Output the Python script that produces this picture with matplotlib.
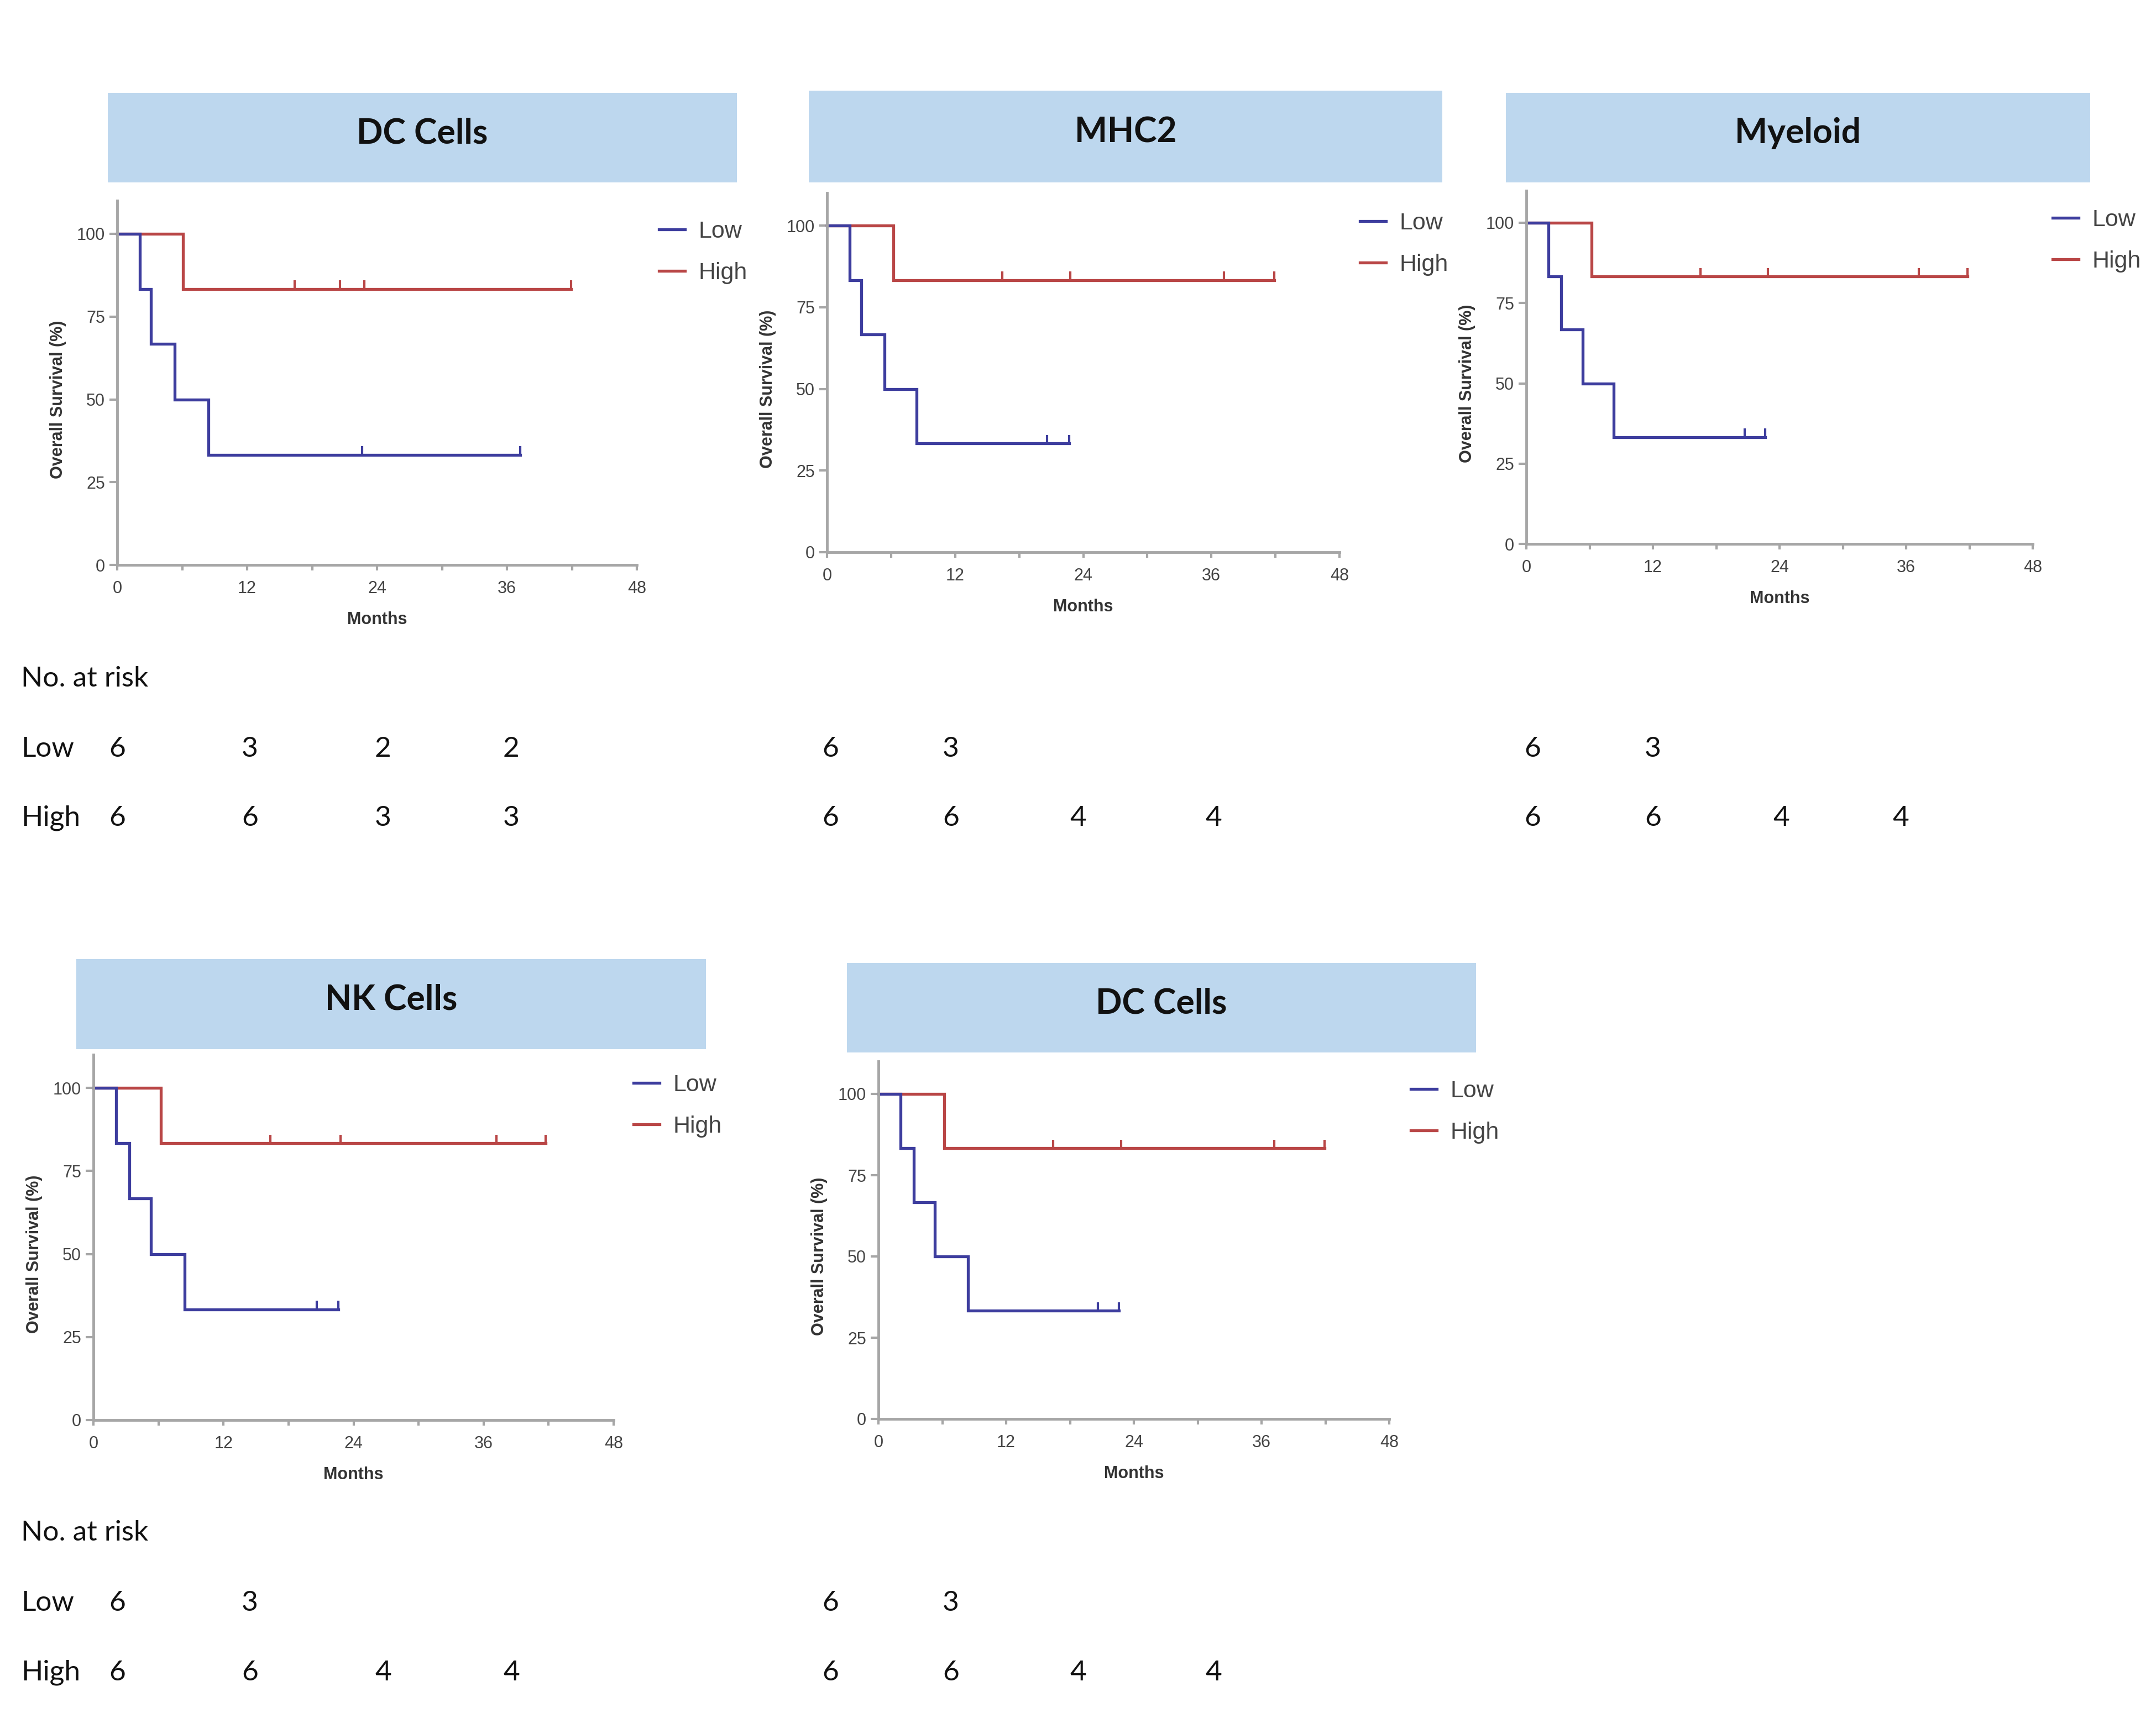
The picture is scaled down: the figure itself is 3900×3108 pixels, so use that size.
import matplotlib
matplotlib.use("Agg")
import matplotlib.pyplot as plt
from matplotlib.patches import Rectangle

W, H = 3900, 3108

# ---------------- data ----------------
titles = ["DC Cells", "MHC2", "Myeloid", "NK Cells", "DC Cells"]
group_labels = ["Low", "High"]

low_times = [
    [0, 2.1, 3.1, 5.3, 8.4],
    [0, 2.1, 3.2, 5.4, 8.4],
    [0, 2.1, 3.3, 5.35, 8.3],
    [0, 2.1, 3.3, 5.3, 8.4],
    [0, 2.1, 3.3, 5.3, 8.4],
]
low_surv = [100, 83.3, 66.7, 50.0, 33.3]
low_end = [37.2, 22.7, 22.65, 22.6, 22.6]
low_censor = [
    [22.6, 37.2],
    [20.6, 22.7],
    [20.7, 22.65],
    [20.6, 22.6],
    [20.6, 22.6],
]

high_times = [
    [0, 6.1],
    [0, 6.2],
    [0, 6.2],
    [0, 6.2],
    [0, 6.2],
]
high_surv = [100, 83.3]
high_end = [41.9, 41.9, 41.8, 41.75, 41.9]
high_censor = [
    [16.4, 20.6, 22.8, 41.9],
    [16.4, 22.8, 37.2, 41.9],
    [16.5, 22.9, 37.2, 41.8],
    [16.3, 22.8, 37.2, 41.75],
    [16.4, 22.8, 37.2, 41.9],
]

x_ticks = [0, 12, 24, 36, 48]
y_ticks = [0, 25, 50, 75, 100]

risk_low = [[6, 3, 2, 2], [6, 3], [6, 3], [6, 3], [6, 3]]
risk_high = [[6, 6, 3, 3], [6, 6, 4, 4], [6, 6, 4, 4], [6, 6, 4, 4], [6, 6, 4, 4]]

# ---------------- layout (pixels) ----------------
# x0, x48, y0, y100
axes_px = [
    (212, 1152, 1022, 423),
    (1496, 2423, 999, 408),
    (2761, 3677, 984, 403),
    (169, 1110, 2569, 1968),
    (1589, 2513, 2567, 1979),
]
title_px = [
    (195, 168, 1333, 330),
    (1463, 164, 2609, 330),
    (2724, 168, 3781, 330),
    (138, 1735, 1277, 1898),
    (1532, 1742, 2670, 1904),
]
legend_px = [(1192, 421), (2460, 406), (3713, 400), (1146, 1965), (2552, 1976)]
risk_cols_px = [
    [212, 452, 693, 925],
    [1502, 1720, 1950, 2195],
    [2772, 2990, 3222, 3438],
    [212, 452, 693, 925],
    [1502, 1720, 1950, 2195],
]
top_rows = (1228, 1355, 1480)
bottom_rows = (2773, 2900, 3026)
risk_rows_px = [top_rows, top_rows, top_rows, bottom_rows, bottom_rows]

BLUE = "#3d3d9e"
RED = "#b94646"
AXC = "#a6a6a6"
TXT = "#444444"
BOX = "#bdd7ee"

ARIAL = ["Liberation Sans", "DejaVu Sans"]
CAL = ["Lato", "DejaVu Sans"]

fig = plt.figure(figsize=(W / 100, H / 100), dpi=100)


def fx(px):
    return px / W


def fy(py):
    return 1 - py / H


for i in range(5):
    x0, x48, y0, y100 = axes_px[i]
    ytop = y0 - (y0 - y100) * 1.1
    wpx = x48 - x0
    hpx = y0 - ytop
    ax = fig.add_axes([fx(x0), fy(y0), wpx / W, hpx / H])

    # High first, Low on top
    ht = high_times[i] + [high_end[i]]
    hs = high_surv + [high_surv[-1]]
    lh, = ax.step(ht, hs, where="post", color=RED, lw=3.8, clip_on=False,
                  label=group_labels[1], solid_joinstyle="miter")
    lt = low_times[i] + [low_end[i]]
    ls = low_surv + [low_surv[-1]]
    ll, = ax.step(lt, ls, where="post", color=BLUE, lw=3.8, clip_on=False,
                  label=group_labels[0], solid_joinstyle="miter")

    ax.vlines(high_censor[i], high_surv[-1], high_surv[-1] + 2.6, color=RED, lw=3.0)
    ax.vlines(low_censor[i], low_surv[-1], low_surv[-1] + 2.6, color=BLUE, lw=3.0)

    ax.set_xlim(0, 48)
    ax.set_ylim(0, 110)
    ax.set_xticks(x_ticks)
    ax.set_xticks([6, 18, 30, 42], minor=True)
    ax.set_yticks(y_ticks)
    for s in ["top", "right"]:
        ax.spines[s].set_visible(False)
    for s in ["left", "bottom"]:
        ax.spines[s].set_color(AXC)
        ax.spines[s].set_linewidth(3.5)
    ax.tick_params(axis="both", which="both", color=AXC, width=3.0, labelcolor=TXT,
                   labelsize=22)
    ax.tick_params(axis="x", which="both", length=7, pad=13)
    ax.tick_params(axis="y", which="both", length=10, pad=6)
    for lab in ax.get_xticklabels() + ax.get_yticklabels():
        lab.set_family(ARIAL)

    ax.set_ylabel("Overall Survival (%)", fontsize=22, fontweight="bold",
                  family=ARIAL, color="#333333")
    ax.set_xlabel("Months", fontsize=22, fontweight="bold", family=ARIAL,
                  color="#333333")
    ax.yaxis.set_label_coords(-92 / wpx, 0.5 * 100 / 110)
    ax.xaxis.set_label_coords(0.5, -84 / hpx)

    # legend
    lx, ly = legend_px[i]
    ax.legend(handles=[ll, lh], loc="upper left",
              bbox_to_anchor=(fx(lx), fy(ly - 22)), bbox_transform=fig.transFigure,
              frameon=False, prop={"family": ARIAL, "size": 31},
              handlelength=1.1, handletextpad=0.55, labelspacing=0.82,
              borderpad=0, borderaxespad=0, labelcolor=TXT)

    # title box
    bx0, by0, bx1, by1 = title_px[i]
    fig.add_artist(Rectangle((fx(bx0), fy(by1)), (bx1 - bx0) / W, (by1 - by0) / H,
                             transform=fig.transFigure, facecolor=BOX,
                             edgecolor="none"))
    fig.text(fx((bx0 + bx1) / 2), fy((by0 + by1) / 2 - 8), titles[i],
             ha="center", va="center", fontsize=45, fontweight="bold",
             family=CAL, color="#111111")

    # risk table numbers
    r0, r1, r2 = risk_rows_px[i]
    cols = risk_cols_px[i]
    for j, v in enumerate(risk_low[i]):
        fig.text(fx(cols[j]), fy(r1), str(v), ha="center", va="center",
                 fontsize=37, family=CAL, color="#111111")
    for j, v in enumerate(risk_high[i]):
        fig.text(fx(cols[j]), fy(r2), str(v), ha="center", va="center",
                 fontsize=37, family=CAL, color="#111111")

# risk table row labels
for rows in [top_rows, bottom_rows]:
    fig.text(fx(38), fy(rows[0]), "No. at risk", ha="left", va="center",
             fontsize=37, family=CAL, color="#111111")
    fig.text(fx(38), fy(rows[1]), "Low", ha="left", va="center",
             fontsize=37, family=CAL, color="#111111")
    fig.text(fx(38), fy(rows[2]), "High", ha="left", va="center",
             fontsize=37, family=CAL, color="#111111")

fig.savefig("out.png", dpi=100, facecolor="white")
